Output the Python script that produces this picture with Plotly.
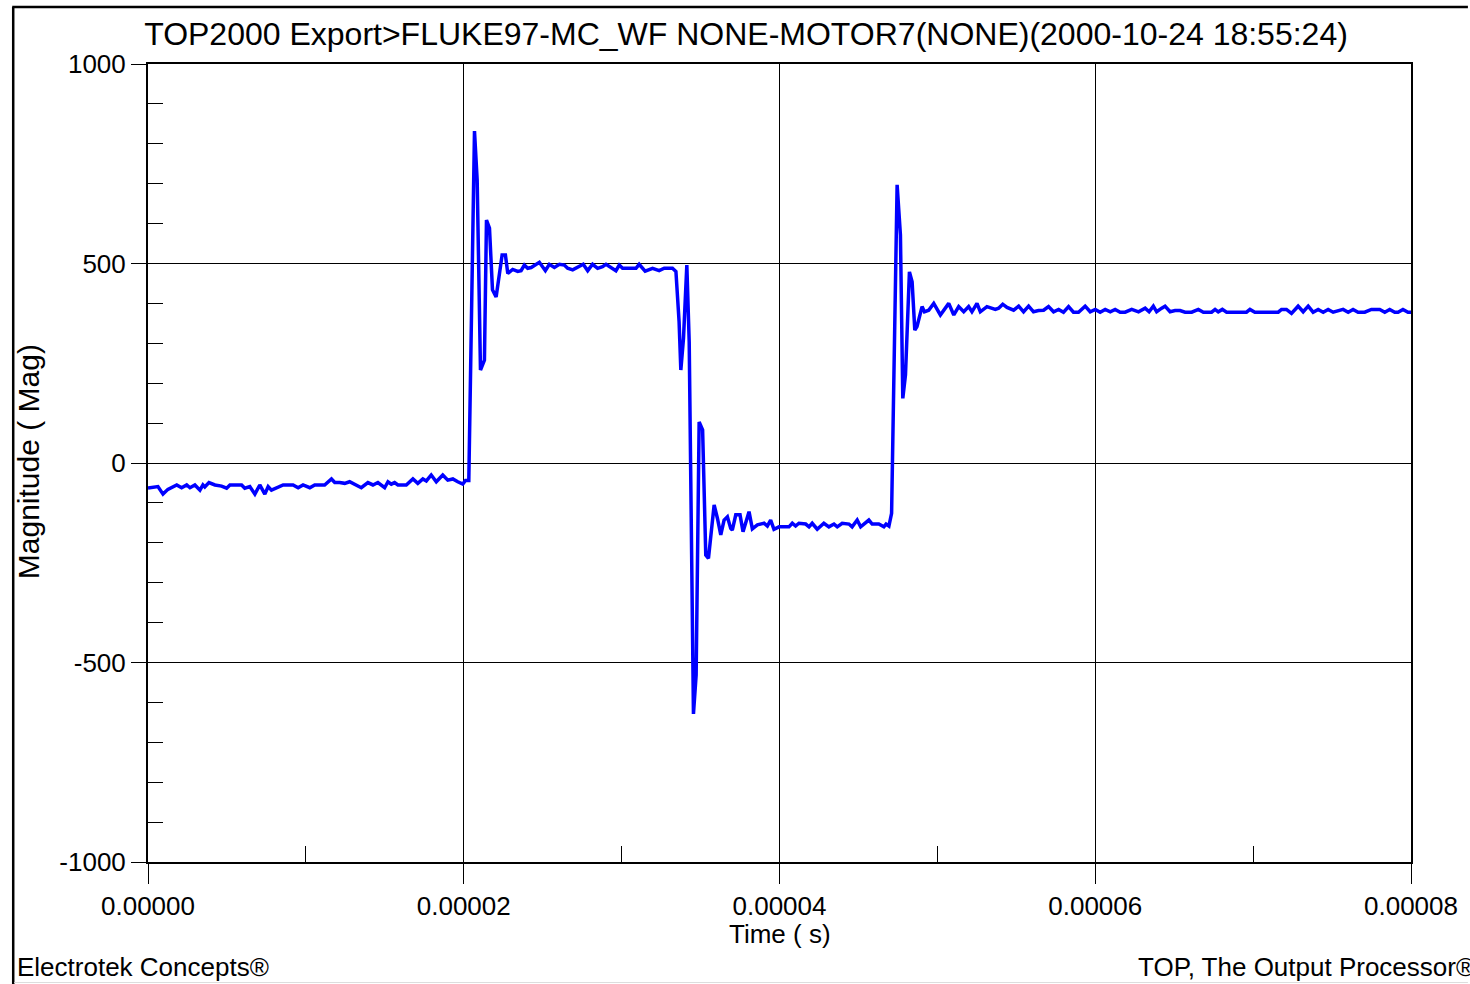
import plotly.graph_objects as go

# ---- data (time in microseconds, magnitude) ----
time_us = [
    0.00, 0.63, 0.95, 1.26, 1.82, 2.13, 2.45, 2.66, 2.97, 3.29, 3.48, 3.60, 3.86, 4.24, 4.66, 4.98,
    5.19, 5.61, 5.93, 6.13, 6.45, 6.77, 7.08, 7.40, 7.61, 7.82, 8.14, 8.56, 9.19, 9.51, 9.82,
    10.25, 10.56, 11.19, 11.62, 11.83, 12.14, 12.46, 12.77, 13.20, 13.51, 13.93, 14.25, 14.56,
    14.99, 15.20, 15.41, 15.62, 15.83, 16.36, 16.78, 17.09, 17.41, 17.63, 17.94, 18.26, 18.67,
    18.99, 19.31, 19.62, 19.94, 20.11, 20.32,
    20.68, 20.85, 21.06, 21.31, 21.44, 21.63, 21.82, 22.05, 22.43, 22.64,
    22.79, 23.10, 23.42, 23.63, 23.84, 24.05, 24.27, 24.79, 25.17, 25.42, 25.74, 26.06, 26.37,
    26.58, 26.90, 27.21, 27.57, 27.85, 28.16, 28.48, 28.79, 29.01, 29.33, 29.64, 29.85, 30.06,
    30.91, 31.11, 31.49, 31.96, 32.38, 32.70, 33.22, 33.44,
    33.64, 33.75, 33.92, 34.13, 34.28, 34.55, 34.72, 34.91, 35.13, 35.33, 35.50, 35.86, 36.07,
    36.28, 36.49, 36.70, 36.91, 37.01, 37.23, 37.50, 37.69, 38.07, 38.28, 38.60, 39.02, 39.23,
    39.44, 39.65, 39.97, 40.60, 40.81, 41.02, 41.23, 41.66, 41.87, 42.07, 42.39, 42.81, 43.13,
    43.45, 43.66, 43.97, 44.40, 44.60, 44.92, 45.14, 45.66, 45.87, 46.29, 46.61, 46.75, 46.93,
    47.10,
    47.45, 47.66, 47.81, 47.98, 48.23, 48.40, 48.57, 48.71, 49.03, 49.18, 49.45, 49.77, 50.19,
    50.72, 51.04, 51.35, 51.67, 51.98, 52.19, 52.51, 52.72, 53.14, 53.67, 53.88, 54.14, 54.41,
    54.83, 55.15, 55.46, 55.78, 56.09, 56.41, 56.73, 57.04, 57.36, 57.68, 57.99, 58.31, 58.62,
    58.94, 59.36, 59.68, 60.00, 60.31, 60.63, 60.95, 61.26, 61.58, 61.89, 62.31, 62.74, 63.16,
    63.41, 63.68, 63.89, 64.21, 64.42, 64.74, 65.06, 65.37, 65.69, 66.11, 66.53, 66.85, 67.37,
    67.59, 67.79, 68.05, 68.32, 69.58, 69.80, 70.11, 71.59, 71.80, 72.11, 72.43, 72.85, 73.17,
    73.49, 73.80, 74.12, 74.44, 74.75, 75.07, 75.38, 75.70, 76.02, 76.33, 76.65, 77.07, 77.49,
    78.02, 78.34, 78.65, 78.97, 79.18, 79.49, 79.81, 80.00,
]
magnitude = [
    -63, -59, -78, -66, -55, -62, -55, -62, -55, -68, -55, -60, -49, -55, -58, -63,
    -55, -55, -55, -63, -59, -78, -55, -78, -59, -68, -63, -55, -55, -62, -55,
    -62, -55, -55, -40, -49, -49, -51, -47, -55, -62, -49, -55, -49,
    -62, -47, -53, -49, -55, -55, -40, -51, -40, -45, -30, -47, -30,
    -43, -40, -47, -53, -44, -44,
    832, 709, 233, 258, 609, 589, 434, 416, 521, 521,
    475, 485, 480, 482, 496, 488, 490, 503, 482, 498, 490, 498, 496,
    488, 484, 490, 498, 482, 498, 488, 492, 498, 490, 482, 496, 488,
    488, 498, 481, 488, 482, 488, 488, 480,
    354, 233, 313, 496, 304, -629, -531, 103, 83, -231, -239, -105, -139,
    -180, -143, -135, -164, -168, -130, -130, -172, -122, -165, -155, -151, -158,
    -143, -166, -160, -160, -151, -158, -151, -153, -160, -151, -166, -151, -160,
    -153, -160, -151, -153, -160, -143, -160, -143, -153, -153, -160, -153, -158,
    -126,
    697, 571, 162, 221, 479, 454, 333, 342, 392, 379, 383, 400, 371,
    400, 371, 392, 379, 392, 379, 400, 379, 392, 385, 388, 398, 390,
    383, 393, 379, 393, 379, 382, 383, 392, 379, 385, 378, 392, 378,
    378, 393, 379, 385, 378, 385, 379, 385, 378, 378, 385, 379, 388,
    379, 393, 379, 388, 393, 379, 382, 382, 378, 378, 385, 378, 378,
    385, 379, 385, 378, 378, 385, 378, 378, 385, 385, 375, 393, 379,
    393, 378, 385, 378, 385, 378, 382, 385, 378, 385, 378, 378, 385,
    385, 378, 385, 378, 378, 385, 378, 378,
]

x_tick_vals = [0.0, 0.00002, 0.00004, 0.00006, 0.00008]
x_tick_labels = ["0.00000", "0.00002", "0.00004", "0.00006", "0.00008"]
y_tick_vals = [-1000, -500, 0, 500, 1000]
y_tick_labels = ["-1000", "-500", "0", "500", "1000"]

title_text = "TOP2000 Export>FLUKE97-MC_WF NONE-MOTOR7(NONE)(2000-10-24 18:55:24)"
x_title = "Time ( s)"
y_title = "Magnitude ( Mag)"
footer_left = "Electrotek Concepts®"
footer_right = "TOP, The Output Processor®"

time_s = [t * 1e-6 for t in time_us]

W, H = 1470, 984
L, R, T, B = 148, 57, 64, 122
PW, PH = W - L - R, H - T - B


def px(x):
    return (x - L) / PW


def py(y):
    return (H - B - y) / PH


FONT = "Liberation Sans, Arial, sans-serif"

fig = go.Figure()
fig.add_trace(go.Scatter(
    x=time_s, y=magnitude, mode="lines",
    line=dict(color="#0000FF", width=3.5), showlegend=False, hoverinfo="skip",
))

fig.update_layout(
    width=W, height=H,
    margin=dict(l=L, r=R, t=T, b=B, pad=0),
    paper_bgcolor="white", plot_bgcolor="white",
    font=dict(family=FONT, color="black"),
    title=dict(text=title_text, x=746 / W, xanchor="center", xref="container",
               y=1 - 34 / H, yanchor="middle", yref="container",
               font=dict(size=32, family=FONT, color="black")),
    showlegend=False,
)

fig.update_xaxes(
    range=[0, 0.00008], tickmode="array", tickvals=x_tick_vals, ticktext=x_tick_labels,
    ticks="outside", ticklen=20, tickwidth=1, tickcolor="black",
    tickfont=dict(size=26, family=FONT, color="black"),
    showgrid=True, gridcolor="black", gridwidth=1,
    showline=True, linecolor="black", linewidth=2, mirror=True,
    zeroline=False,
    minor=dict(ticks="inside", ticklen=16, tickwidth=1, tickcolor="black",
               tickmode="array", tickvals=[0.00001, 0.00003, 0.00005, 0.00007], showgrid=False),
)
fig.update_yaxes(
    range=[-1000, 1000], tickmode="array", tickvals=y_tick_vals, ticktext=y_tick_labels,
    ticks="outside", ticklen=15, tickwidth=1, tickcolor="black",
    tickfont=dict(size=26, family=FONT, color="black"),
    showgrid=True, gridcolor="black", gridwidth=1,
    showline=True, linecolor="black", linewidth=2, mirror=True,
    zeroline=False,
    minor=dict(ticks="inside", ticklen=15, tickwidth=1, tickcolor="black",
               tickmode="array",
               tickvals=[-900, -800, -700, -600, -400, -300, -200, -100,
                         100, 200, 300, 400, 600, 700, 800, 900], showgrid=False),
)

annotations = [
    dict(text=x_title, x=px(781), y=py(934), xref="paper", yref="paper",
         xanchor="center", yanchor="middle", showarrow=False,
         font=dict(size=26, family=FONT, color="black")),
    dict(text=y_title, x=px(28), y=py(462), xref="paper", yref="paper",
         xanchor="center", yanchor="middle", showarrow=False, textangle=-90,
         font=dict(size=30, family=FONT, color="black")),
    dict(text=footer_left, x=px(15), y=py(967), xref="paper", yref="paper",
         xanchor="left", yanchor="middle", showarrow=False,
         font=dict(size=26, family=FONT, color="black")),
    dict(text=footer_right, x=px(1138), y=py(967), xref="paper", yref="paper",
         xanchor="left", yanchor="middle", showarrow=False,
         font=dict(size=26, family=FONT, color="black")),
]
fig.update_layout(annotations=annotations)

shapes = [
    dict(type="line", xref="paper", yref="paper", x0=px(13), x1=px(13), y0=py(7), y1=py(984),
         line=dict(color="black", width=2.5)),
    dict(type="line", xref="paper", yref="paper", x0=px(12), x1=px(1470), y0=py(7), y1=py(7),
         line=dict(color="black", width=2.5)),
    dict(type="line", xref="paper", yref="paper", x0=px(14), x1=px(1470), y0=py(982.5), y1=py(982.5),
         line=dict(color="#dddddd", width=1)),
]
fig.update_layout(shapes=shapes)

fig.write_html("out.html")
